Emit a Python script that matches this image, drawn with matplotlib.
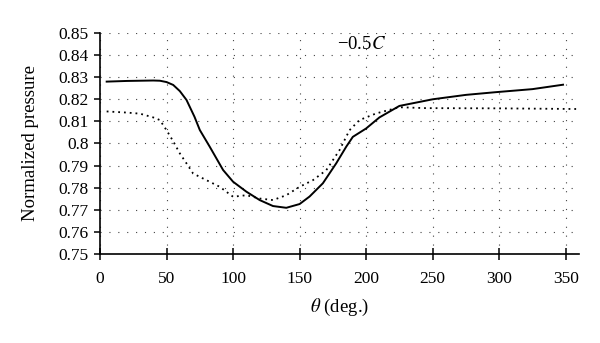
import numpy as np
import matplotlib
matplotlib.use("Agg")
import matplotlib.pyplot as plt
from matplotlib.ticker import FuncFormatter

plt.rcParams["font.family"] = ["Liberation Serif", "DejaVu Serif"]
plt.rcParams["mathtext.fontset"] = "stix"

# solid curve
theta_a = [5, 20, 40, 45, 50, 55, 60, 65, 71, 75, 82.5, 92.5, 100, 110, 120,
           130, 140, 150, 157.5, 167.5, 177.5, 185, 190, 200, 210, 225, 250,
           275, 297, 325, 348]
p_a = [0.828, 0.8283, 0.8285, 0.8284, 0.8278, 0.8265, 0.8237, 0.8197, 0.8121,
       0.8061, 0.7985, 0.788, 0.7827, 0.7782, 0.7744, 0.7717, 0.7709, 0.7726,
       0.776, 0.782, 0.791, 0.7985, 0.803, 0.8068, 0.8118, 0.817, 0.820,
       0.822, 0.8232, 0.8246, 0.8266]

# dotted curve
theta_b = [5, 20, 30, 40, 45, 50, 55, 60, 65, 70, 80, 90, 100, 110, 120, 130,
           140, 150, 160, 170, 180, 187.5, 195, 207.5, 225, 245, 300, 360]
p_b = [0.8145, 0.814, 0.8135, 0.8118, 0.8106, 0.806, 0.801, 0.7955, 0.791,
       0.7864, 0.7834, 0.7804, 0.7759, 0.7766, 0.7751, 0.7744, 0.7766, 0.7804,
       0.7834, 0.7879, 0.797, 0.806, 0.8106, 0.8136, 0.8164, 0.816, 0.8159,
       0.8156]

y_ticks = np.round(np.arange(0.75, 0.8501, 0.01), 2)
x_ticks = np.arange(0, 351, 50)

fig = plt.figure(figsize=(6, 3.43), dpi=100)
ax = fig.add_axes([0.1667, 0.2595, 0.7983, 0.6443])

ax.plot(theta_a, p_a, color="black", lw=1.4, zorder=3)
ax.plot(theta_b, p_b, color="black", lw=1.3, linestyle=(0, (1, 2.2)), zorder=3)

ax.set_xlim(0, 360)
ax.set_ylim(0.75, 0.85)
ax.set_xticks(x_ticks)
ax.set_yticks(y_ticks)
ax.yaxis.set_major_formatter(FuncFormatter(lambda v, _: "%g" % round(v, 2)))

ax.grid(True, color="#444444", linestyle=(0, (1, 7)), lw=0.8)
for s in ["top", "right"]:
    ax.spines[s].set_visible(False)
for s in ["left", "bottom"]:
    ax.spines[s].set_linewidth(1.2)

ax.tick_params(axis="y", direction="out", length=4, width=1.1, labelsize=12.5, pad=4)
ax.tick_params(axis="x", direction="inout", length=8, width=1.1, labelsize=12.5, pad=8)

ax.set_ylabel("Normalized pressure", fontsize=13.5, labelpad=14)
ax.set_xlabel(r"$\theta$ (deg.)", fontsize=13.5, labelpad=7)

ax.text(178, 0.8448, r"−0.5$C$", fontsize=13.5, va="center", ha="left")

fig.savefig("out.png", dpi=100)
